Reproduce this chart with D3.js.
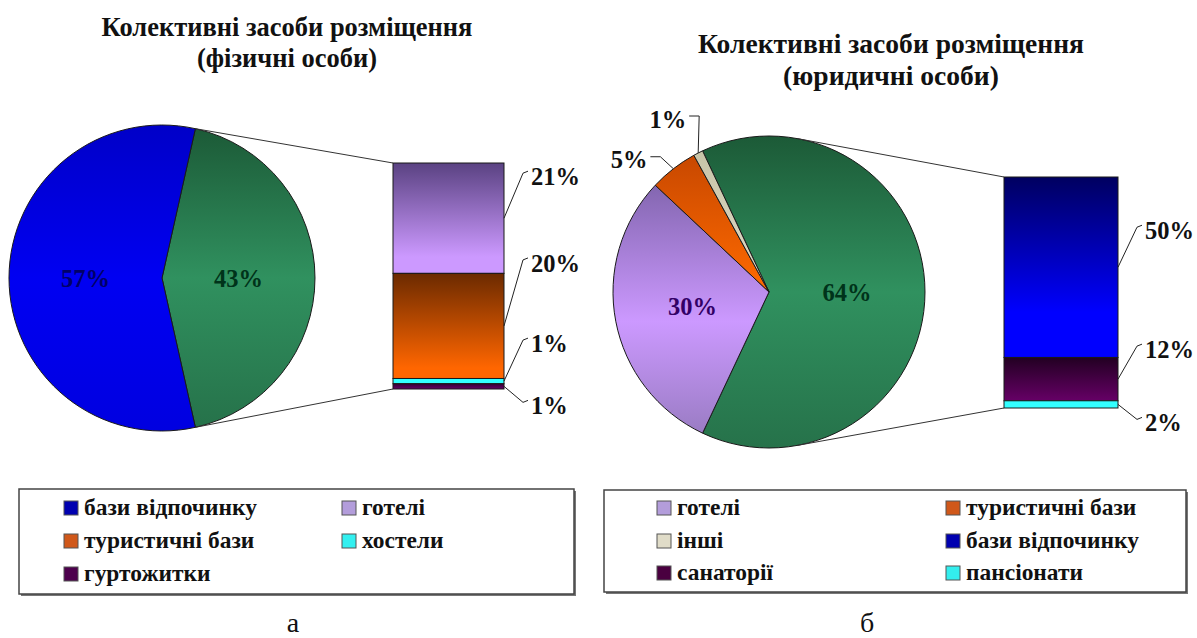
<!DOCTYPE html>
<html><head><meta charset="utf-8">
<script src="https://cdn.jsdelivr.net/npm/d3@7"></script>
<style>
body{margin:0;background:#fff}
svg{display:block}
</style>
</head><body>
<svg id="c" width="1197" height="638"></svg>
<script>
// ---------------- DATA ----------------
const titleLine1 = "Колективні засоби розміщення";
const subtitles = ["(фізичні особи)", "(юридичні особи)"];
const captions = ["а", "б"];

// left chart (фізичні особи): pie, first entry is the split-off group shown in the bar
const leftPieCategories = ["other", "бази відпочинку"];
const leftPieValues = [43, 57];
const leftBarCategories = ["готелі", "туристичні бази", "хостели", "гуртожитки"];
const leftBarValues = [21, 20, 1, 1];
const leftLegend = ["бази відпочинку", "готелі", "туристичні бази", "хостели", "гуртожитки"];

// right chart (юридичні особи)
const rightPieCategories = ["other", "готелі", "туристичні бази", "інші"];
const rightPieValues = [64, 30, 5, 1];
const rightBarCategories = ["бази відпочинку", "санаторії", "пансіонати"];
const rightBarValues = [50, 12, 2];
const rightLegend = ["готелі", "туристичні бази", "інші", "бази відпочинку", "санаторії", "пансіонати"];

// ---------------- STYLE ----------------
const svg = d3.select("#c");

// pick the first installed serif family
function measure(family){
  const t = svg.append("text").attr("font-family", family).attr("font-size", 100)
    .text("Колективні засоби mmwwii 1234%");
  const w = t.node().getComputedTextLength();
  t.remove();
  return w;
}
const refMono = measure("monospace");
const candidates = ["Liberation Serif", "Tinos", "Times New Roman", "Times", "Nimbus Roman", "FreeSerif", "Noto Serif", "DejaVu Serif"];
let FONT = "serif";
for (const c of candidates) {
  if (Math.abs(measure(`'${c}', monospace`) - refMono) > 0.5) { FONT = `'${c}', serif`; break; }
}

const defs = svg.append("defs");
let gid = 0;
function grad(stops){
  const id = "g" + (gid++);
  const g = defs.append("linearGradient").attr("id", id)
    .attr("x1", 0).attr("y1", 0).attr("x2", 0).attr("y2", 1);
  stops.forEach(([o, c]) => g.append("stop").attr("offset", o).attr("stop-color", c));
  return `url(#${id})`;
}
const pieFill = {
  "other": grad([[0, "#1c5a37"], [0.5, "#30915f"], [1, "#26724a"]]),
  "бази відпочинку": grad([[0, "#0000c8"], [0.5, "#0000f2"], [1, "#0000e0"]]),
  "готелі": grad([[0, "#8366b0"], [0.55, "#cc99ff"], [1, "#9a7cc4"]]),
  "туристичні бази": grad([[0, "#c84800"], [1, "#ff6a00"]]),
  "інші": grad([[0, "#c8c4a8"], [1, "#e0dcc8"]])
};
const barFill = {
  "готелі": grad([[0, "#5a4282"], [0.85, "#cc99ff"], [1, "#cc99ff"]]),
  "туристичні бази": grad([[0, "#6b2a00"], [0.9, "#ff6600"], [1, "#ff6600"]]),
  "хостели": "#33ffff",
  "гуртожитки": grad([[0, "#330033"], [1, "#660066"]]),
  "бази відпочинку": grad([[0, "#000060"], [0.75, "#0000ff"], [1, "#0000ff"]]),
  "санаторії": grad([[0, "#220022"], [1, "#660066"]]),
  "пансіонати": "#33ffff"
};
const legendFill = {
  "бази відпочинку": "#0000b0",
  "готелі": "#b39ddb",
  "туристичні бази": "#d0581a",
  "хостели": "#33f0f0",
  "гуртожитки": "#4d004d",
  "інші": "#e0dcc8",
  "санаторії": "#4a0040",
  "пансіонати": "#33eeee"
};
const insideLabelColor = {
  "other": "#00331a",
  "бази відпочинку": "#000066",
  "готелі": "#330066"
};

// ---------------- LAYOUT ----------------
const charts = [
  {
    pieCats: leftPieCategories, pieVals: leftPieValues,
    barCats: leftBarCategories, barVals: leftBarValues,
    legend: leftLegend, subtitle: subtitles[0], caption: captions[0],
    cx: 162, cy: 278, r: 153,
    barX0: 393, barX1: 504, barTop: 163, barBottom: 389,
    titleX: 287, titleY: [36, 67], titleWidth: 371,
    labelDy: [-42, -63, -38, 19],
    outside: {},
    legendBox: [19, 489, 555, 105], legendCols: [64, 342], legendRows: [515, 548, 581],
    captionX: 293
  },
  {
    pieCats: rightPieCategories, pieVals: rightPieValues,
    barCats: rightBarCategories, barVals: rightBarValues,
    legend: rightLegend, subtitle: subtitles[1], caption: captions[1],
    cx: 769, cy: 292, r: 156,
    barX0: 1004, barX1: 1118, barTop: 177, barBottom: 408,
    titleX: 891, titleY: [53, 85], titleWidth: 386,
    labelDy: [-37, -30, 18],
    outside: { "туристичні бази": [-13, -12], "інші": [1, -37] },
    legendBox: [604, 490, 582, 102], legendCols: [657, 946], legendRows: [515, 548, 580],
    captionX: 867
  }
];

// bold serif text
function btxt(sel, size, color){
  return sel.append("text").attr("font-family", FONT).attr("font-size", size)
    .attr("font-weight", "bold").attr("fill", color);
}
// font size that gives a text the wanted width
function fitSize(str, width){
  const t = svg.append("text").attr("font-family", FONT).attr("font-weight", "bold")
    .attr("font-size", 100).text(str);
  const w = t.node().getComputedTextLength();
  t.remove();
  return 100 * width / w;
}
const legendSize = fitSize("бази відпочинку", 173);
const labelSize = fitSize("43%", 49);

function drawChart(C){
  const g = svg.append("g");
  // title
  const ts = fitSize(titleLine1, C.titleWidth);
  btxt(g, ts, "#111").attr("x", C.titleX).attr("y", C.titleY[0]).attr("text-anchor", "middle").text(titleLine1);
  btxt(g, ts, "#111").attr("x", C.titleX).attr("y", C.titleY[1]).attr("text-anchor", "middle").text(C.subtitle);

  // pie
  const total = d3.sum(C.pieVals);
  const otherFrac = C.pieVals[0] / total;
  const a0 = Math.PI / 2 - otherFrac * Math.PI;
  const pie = d3.pie().sort(null).value(d => d.v).startAngle(a0).endAngle(a0 + 2 * Math.PI);
  const arcs = pie(C.pieCats.map((c, i) => ({ c, v: C.pieVals[i] })));
  const arc = d3.arc().innerRadius(0).outerRadius(C.r);
  const pg = g.append("g").attr("transform", `translate(${C.cx},${C.cy})`);
  pg.selectAll("path").data(arcs).join("path")
    .attr("d", arc).attr("fill", d => pieFill[d.data.c])
    .attr("stroke", "#1a1a1a").attr("stroke-width", 1);

  // inside labels
  arcs.filter(d => !C.outside[d.data.c]).forEach(d => {
    const [x, y] = arc.centroid(d);
    btxt(pg, labelSize, insideLabelColor[d.data.c] || "#000")
      .attr("x", x).attr("y", y).attr("dy", "0.35em").attr("text-anchor", "middle")
      .text(d.data.v + "%");
  });

  // outside labels with leaders
  arcs.filter(d => C.outside[d.data.c]).forEach(d => {
    const m = (d.startAngle + d.endAngle) / 2;
    const ex = C.r * Math.sin(m), ey = -C.r * Math.cos(m);
    const [ox, oy] = C.outside[d.data.c];
    const elx = ex + ox, ely = ey + oy;
    pg.append("path").attr("fill", "none").attr("stroke", "#222").attr("stroke-width", 1)
      .attr("d", d3.line()([[ex, ey], [elx, ely], [elx - 10, ely]]));
    btxt(pg, labelSize, "#111").attr("x", elx - 13).attr("y", ely + 3).attr("dy", "0.35em")
      .attr("text-anchor", "end").text(d.data.v + "%");
  });

  // bar (stacked, top to bottom)
  const y = d3.scaleLinear().domain([0, d3.sum(C.barVals)]).range([C.barTop, C.barBottom]);
  let cum = 0;
  const segs = C.barCats.map((c, i) => {
    const s = { c, v: C.barVals[i], y0: y(cum), y1: y(cum + C.barVals[i]) };
    cum += C.barVals[i];
    return s;
  });
  g.selectAll("rect.seg").data(segs).join("rect").attr("class", "seg")
    .attr("x", C.barX0).attr("width", C.barX1 - C.barX0)
    .attr("y", d => d.y0).attr("height", d => d.y1 - d.y0)
    .attr("fill", d => barFill[d.c]).attr("stroke", "#1a1a1a").attr("stroke-width", 1);

  // bar labels with leaders
  segs.forEach((s, i) => {
    const mid = (s.y0 + s.y1) / 2;
    const ly = mid + C.labelDy[i];
    const lx = C.barX1 + 27;
    g.append("path").attr("fill", "none").attr("stroke", "#222").attr("stroke-width", 1)
      .attr("d", d3.line()([[C.barX1, mid], [lx - 8, ly - 3], [lx - 3, ly - 5]]));
    btxt(g, labelSize, "#111").attr("x", lx).attr("y", ly).attr("dy", "0.35em").text(s.v + "%");
  });

  // connector lines from pie (split group edges or tangent points) to bar corners
  function tangentAngle(px, py, sign){
    const dx = px - C.cx, dy = py - C.cy;
    const d = Math.hypot(dx, dy);
    const tp = Math.atan2(dx, -dy);
    return tp + sign * Math.acos(C.r / d);
  }
  const other = arcs[0];
  const tTop = Math.max(other.startAngle, tangentAngle(C.barX0, C.barTop, -1));
  const tBot = Math.min(other.endAngle, tangentAngle(C.barX0, C.barBottom, 1));
  [[tTop, C.barTop], [tBot, C.barBottom]].forEach(([a, by]) => {
    g.append("line")
      .attr("x1", C.cx + C.r * Math.sin(a)).attr("y1", C.cy - C.r * Math.cos(a))
      .attr("x2", C.barX0).attr("y2", by)
      .attr("stroke", "#333").attr("stroke-width", 1);
  });

  // legend
  const [bx, by, bw, bh] = C.legendBox;
  g.append("rect").attr("x", bx + 2).attr("y", by + 2).attr("width", bw).attr("height", bh).attr("fill", "#777");
  g.append("rect").attr("x", bx).attr("y", by).attr("width", bw).attr("height", bh)
    .attr("fill", "#fff").attr("stroke", "#444").attr("stroke-width", 1.5);
  C.legend.forEach((name, i) => {
    const col = i % 2, row = Math.floor(i / 2);
    const x = C.legendCols[col], yb = C.legendRows[row];
    g.append("rect").attr("x", x).attr("y", yb - 14).attr("width", 14).attr("height", 14)
      .attr("fill", legendFill[name]).attr("stroke", "#555").attr("stroke-width", 1);
    btxt(g, legendSize, "#111").attr("x", x + 20).attr("y", yb).text(name);
  });

  // caption
  g.append("text").attr("font-family", FONT).attr("x", C.captionX).attr("y", 632)
    .attr("text-anchor", "middle").attr("font-size", 28).attr("fill", "#111").text(C.caption);
}
charts.forEach(drawChart);
</script>
</body></html>
